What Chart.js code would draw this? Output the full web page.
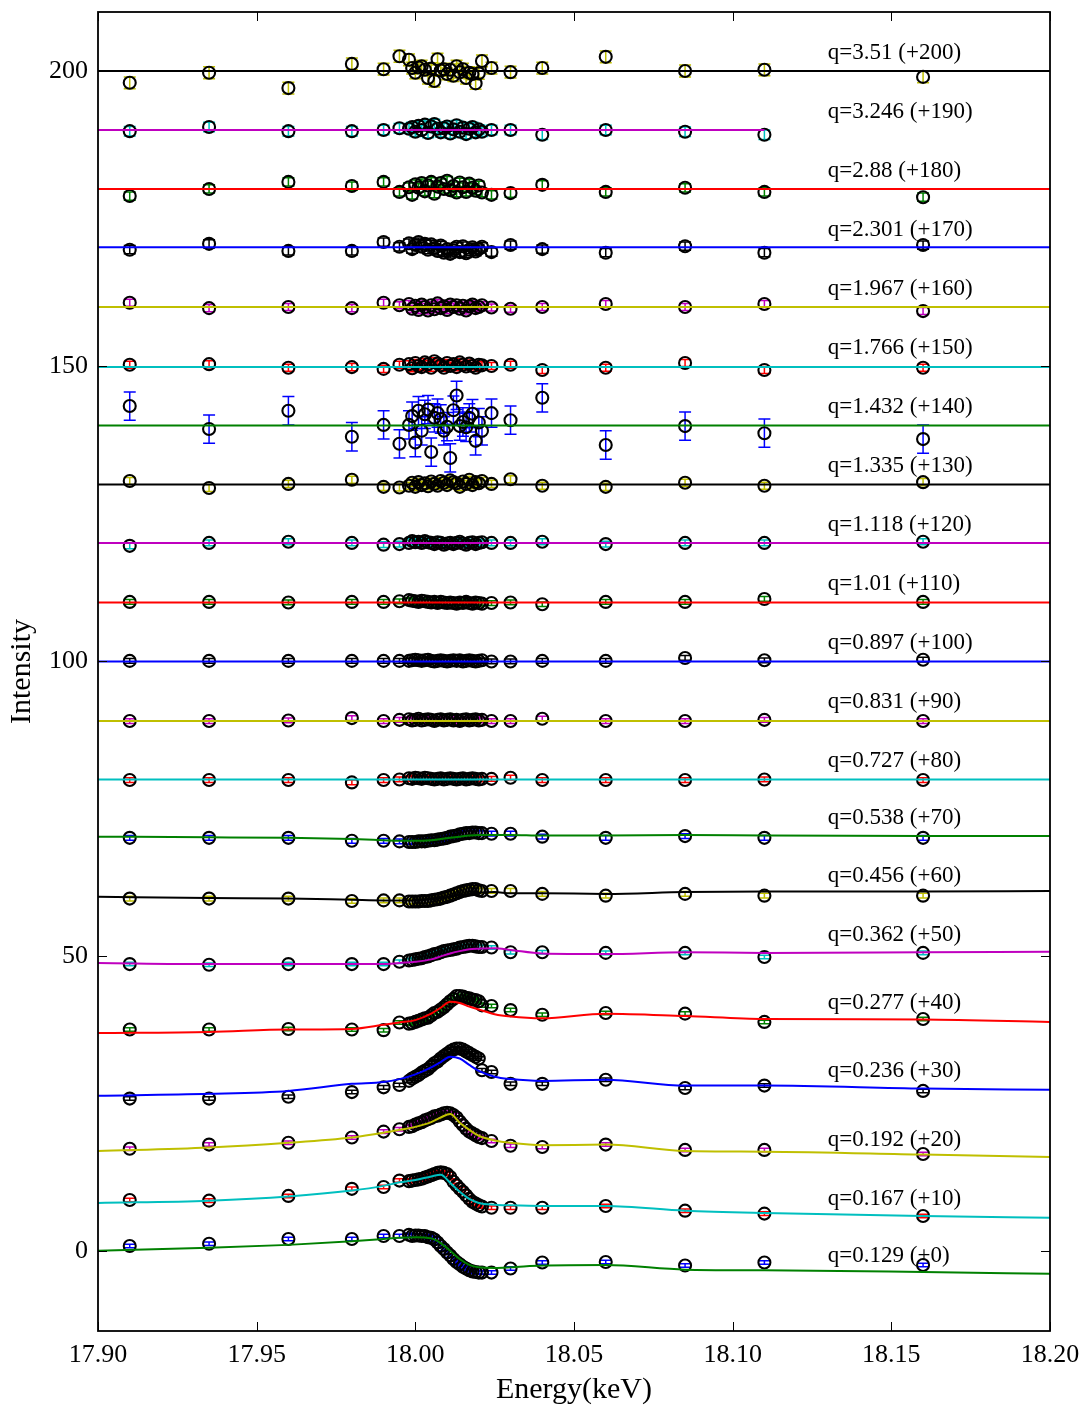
<!DOCTYPE html>
<html>
<head>
<meta charset="utf-8">
<script src="https://cdn.jsdelivr.net/npm/chart.js@4.4.0/dist/chart.umd.min.js"></script>
<style>
  html, body { margin: 0; padding: 0; background: #fff; }
</style>
</head>
<body>
<canvas id="spectraChart" width="1084" height="1408"></canvas>
<script>
// measured energies (keV), shared by every q
const energy = [17.91, 17.935, 17.96, 17.98, 17.99, 17.995,
  17.998, 17.999, 18.000, 18.001, 18.002, 18.003, 18.004, 18.005, 18.006, 18.007, 18.008, 18.009,
  18.010, 18.011, 18.012, 18.013, 18.014, 18.015, 18.016, 18.017, 18.018, 18.019, 18.020, 18.021,
  18.024, 18.03, 18.04, 18.06, 18.085, 18.11, 18.16];

// energies where the fit curves are drawn
const fitEnergy = [17.90, 17.935, 17.96, 17.98, 17.99, 17.995, 18.0, 18.005, 18.008, 18.011,
  18.014, 18.017, 18.02, 18.025, 18.03, 18.04, 18.06, 18.085, 18.11, 18.16, 18.20];

const xTicks = [17.90, 17.95, 18.00, 18.05, 18.10, 18.15, 18.20];
const yTicks = [0, 50, 100, 150, 200];

const qValues = ['0.129', '0.167', '0.192', '0.236', '0.277', '0.362', '0.456', '0.538', '0.727', '0.831',
  '0.897', '1.01', '1.118', '1.335', '1.432', '1.766', '1.967', '2.301', '2.88', '3.246', '3.51'];
const offsets = [0, 10, 20, 30, 40, 50, 60, 70, 80, 90, 100, 110, 120, 130, 140, 150, 160, 170, 180, 190, 200];

// intensity without the offset (one value per energy)
const i0129 = [0.8, 1.2, 2.0, 2.0, 2.5, 2.5,
  2.7, 2.5, 2.6, 2.6, 2.5, 2.5, 2.3, 2.2, 1.9, 1.4, 0.8, 0.3, -0.3, -0.8, -1.4, -1.9, -2.3, -2.7, -3.0, -3.3, -3.5, -3.6, -3.7, -3.7,
  -3.7, -3.0, -2.0, -1.9, -2.5, -2.0, -2.4];
const i0167 = [-1.4, -1.5, -0.7, 0.5, 0.8, 1.9,
  1.8, 1.9, 2.0, 2.1, 2.2, 2.4, 2.6, 2.8, 3.0, 3.2, 3.3, 3.2, 3.0, 2.5, 1.7, 1.1, 0.5, 0.0, -0.6, -1.2, -1.7, -2.0, -2.3, -2.5,
  -2.7, -2.7, -2.7, -2.4, -3.2, -3.7, -4.1];
const i0192 = [-2.7, -2.0, -1.7, -0.8, 0.2, 0.6,
  1.0, 1.1, 1.4, 1.6, 1.8, 2.1, 2.3, 2.5, 2.8, 2.9, 3.1, 3.3, 3.4, 3.3, 3.0, 2.6, 1.9, 1.3, 0.7, 0.2, -0.1, -0.4, -0.7, -0.9,
  -1.4, -2.2, -2.4, -2.0, -2.9, -2.9, -3.6];
const i0236 = [-4.2, -4.2, -3.9, -3.1, -2.3, -1.9,
  -1.2, -0.8, -0.5, -0.2, 0.2, 0.5, 0.8, 1.3, 1.8, 2.1, 2.6, 3.0, 3.4, 3.8, 4.1, 4.3, 4.3, 4.1, 3.8, 3.5, 3.2, 2.9, 2.6, 0.6,
  0.3, -1.7, -1.7, -1.0, -2.4, -2.0, -2.9];
const i0277 = [-2.5, -2.5, -2.4, -2.5, -2.6, -1.3,
  -1.5, -1.4, -1.2, -1.0, -0.8, -0.6, -0.5, -0.1, 0.3, 0.5, 0.9, 1.3, 1.8, 2.3, 2.7, 3.2, 3.2, 3.1, 2.9, 2.8, 2.6, 2.5, 2.3, 1.6,
  1.5, 0.8, 0.0, 0.3, 0.2, -1.2, -0.7];
const i0362 = [-1.4, -1.5, -1.4, -1.4, -1.4, -1.0,
  -0.8, -0.7, -0.6, -0.5, -0.4, -0.2, -0.1, 0.1, 0.3, 0.4, 0.6, 0.8, 0.9, 1.0, 1.1, 1.2, 1.4, 1.5, 1.6, 1.7, 1.7, 1.6, 1.5, 1.5,
  1.4, 0.6, 0.6, 0.5, 0.5, -0.2, 0.5];
const i0456 = [-0.3, -0.3, -0.3, -0.7, -0.6, -0.6,
  -0.8, -0.8, -0.8, -0.8, -0.7, -0.7, -0.7, -0.6, -0.5, -0.4, -0.3, -0.1, 0.0, 0.2, 0.4, 0.6, 0.8, 1.0, 1.1, 1.2, 1.3, 1.3, 1.1, 1.0,
  1.0, 1.0, 0.5, 0.2, 0.5, 0.2, 0.2];
const i0538 = [0.0, 0.0, 0.0, -0.5, -0.5, -0.6,
  -0.7, -0.7, -0.7, -0.6, -0.6, -0.6, -0.5, -0.4, -0.4, -0.3, -0.2, -0.1, 0.0, 0.2, 0.3, 0.4, 0.6, 0.7, 0.8, 0.8, 0.9, 0.9, 0.8, 0.8,
  0.7, 0.7, 0.2, 0.0, 0.3, 0.0, 0.0];
const i0727 = [-0.2, -0.2, -0.2, -0.6, -0.2, -0.1,
  0.1, 0.0, 0.2, 0.1, 0.0, 0.2, 0.1, 0.0, -0.1, 0.0, 0.1, -0.1, 0.0, 0.1, 0.0, -0.1, 0.0, 0.1, -0.1, 0.0, 0.1, 0.0, -0.1, 0.0,
  0.0, 0.2, -0.2, -0.2, -0.2, -0.1, -0.2];
const i0831 = [-0.2, -0.2, -0.1, 0.3, -0.2, 0.0,
  0.1, -0.1, 0.0, 0.2, -0.1, 0.0, 0.1, 0.0, -0.2, 0.0, 0.1, -0.1, 0.0, 0.1, -0.1, 0.0, -0.2, 0.0, 0.1, -0.1, 0.0, 0.1, -0.1, 0.0,
  -0.2, -0.2, 0.2, -0.2, -0.2, 0.0, -0.2];
const i0897 = [0.0, 0.0, 0.0, 0.0, 0.0, 0.0,
  0.0, 0.1, 0.2, 0.1, 0.0, 0.1, 0.2, 0.0, -0.1, 0.0, 0.1, 0.0, -0.1, 0.0, 0.1, 0.0, 0.1, -0.1, 0.0, 0.1, 0.0, -0.1, 0.0, 0.1,
  -0.1, -0.1, 0.0, 0.0, 0.5, 0.1, 0.2];
const i1010 = [0.0, 0.0, -0.1, 0.0, 0.0, 0.1,
  0.3, 0.2, 0.1, 0.0, 0.2, 0.1, 0.0, -0.1, 0.0, -0.2, 0.0, -0.1, -0.2, -0.1, -0.2, -0.3, -0.1, -0.2, 0.0, -0.2, -0.3, -0.1, -0.2, -0.3,
  -0.2, -0.1, -0.4, 0.0, 0.0, 0.5, 0.0];
const i1118 = [-0.5, 0.0, 0.2, 0.0, -0.3, -0.2,
  0.0, 0.3, 0.1, 0.2, 0.0, 0.3, 0.1, 0.0, -0.2, 0.1, 0.0, -0.3, -0.1, 0.0, -0.2, 0.0, 0.2, -0.1, -0.3, 0.0, 0.1, -0.2, 0.0, 0.1,
  0.0, 0.0, 0.2, -0.2, 0.0, 0.0, 0.2];
const i1335 = [0.5, -0.7, 0.0, 0.7, -0.5, -0.6,
  -0.3, 0.2, -0.5, 0.3, -0.2, 0.1, -0.4, 0.4, 0.0, -0.3, 0.5, 0.2, -0.2, 0.6, 0.3, 0.1, -0.5, 0.4, 0.0, 0.7, -0.2, 0.3, 0.1, 0.5,
  0.0, 0.8, -0.3, -0.5, 0.2, -0.3, 0.3];
const i1432 = [3.2, -0.7, 2.4, -2.0, 0.0, -3.2,
  0.0, 1.5, -3.0, 2.4, -1.0, 1.8, 2.6, -4.6, 1.2, 2.0, 1.0, -1.0, -0.3, -5.6, 2.5, 5.0, -0.2, 0.5, -0.4, 1.2, 1.9, -2.7, 0.4, -1.0,
  2.0, 0.8, 4.6, -3.4, -0.2, -1.4, -2.4];
const i1766 = [0.2, 0.3, -0.3, -0.2, -0.5, 0.2,
  0.3, -0.4, 0.5, 0.0, -0.2, 0.6, 0.3, -0.3, 0.8, 0.4, 0.1, -0.3, 0.5, 0.0, 0.3, -0.2, 0.6, 0.2, -0.1, 0.4, 0.0, -0.3, 0.2, 0.1,
  0.0, 0.2, -0.7, -0.3, 0.5, -0.7, -0.3];
const i1967 = [0.7, -0.2, 0.0, -0.2, 0.7, 0.3,
  0.5, -0.3, 0.2, -0.5, 0.4, 0.0, -0.6, 0.3, -0.4, 0.6, -0.2, 0.1, -0.5, 0.4, 0.0, 0.3, -0.3, 0.2, -0.6, 0.1, 0.4, -0.2, 0.0, 0.3,
  -0.1, -0.3, 0.0, 0.5, 0.0, 0.5, -0.7];
const i2301 = [-0.3, 0.7, -0.5, -0.5, 1.0, 0.2,
  0.8, -0.2, 0.5, 1.0, 0.2, 0.7, -0.3, 0.6, 0.0, -0.5, 0.4, -0.8, -0.2, -1.0, -0.4, 0.2, -0.7, 0.3, -0.9, -0.3, 0.1, -0.6, -0.2, 0.2,
  -0.7, 0.5, -0.2, -0.8, 0.3, -0.8, 0.5];
const i2880 = [-1.2, 0.0, 1.2, 0.5, 1.2, -0.5,
  0.3, -1.0, 0.8, 0.2, 1.0, -0.4, 0.6, 1.2, -0.8, 0.4, 1.0, 0.0, 1.4, -0.2, 0.5, -0.6, 1.1, 0.3, -0.5, 0.9, 0.2, -0.3, 0.6, -0.6,
  -1.0, -0.7, 0.7, -0.5, 0.2, -0.5, -1.4];
const i3246 = [-0.2, 0.5, -0.2, -0.2, 0.0, 0.3,
  0.2, 0.5, -0.3, 0.7, 0.0, 0.9, -0.5, 0.6, 1.0, 0.2, -0.4, 0.3, 0.6, -0.6, 0.1, 0.8, -0.3, 0.4, -0.7, 0.2, 0.5, -0.4, 0.1, -0.3,
  0.0, 0.0, -0.8, 0.0, -0.3, -0.8, null];
const i3510 = [-2.0, -0.3, -2.9, 1.2, 0.3, 2.5,
  1.9, 0.5, -0.3, 0.6, 0.8, 0.2, -1.2, 0.4, -1.7, 2.0, 0.1, 0.3, -0.5, 0.2, -0.8, 0.8, -0.2, 0.3, -1.2, -0.3, -0.5, -2.1, -0.4, 1.7,
  0.5, -0.2, 0.5, 2.4, 0.0, 0.2, -1.0];

// fit curves (also without the offset), on fitEnergy
const f0129 = [0.0, 0.5, 1.0, 1.6, 2.0, 2.2, 2.3, 2.1, 1.3, 0.0, -1.4, -2.4, -2.8, -2.9, -2.8, -2.5, -2.4, -3.2, -3.3, -3.6, -3.9];
const f0167 = [-1.9, -1.5, -0.8, 0.2, 1.0, 1.6, 2.0, 2.6, 2.9, 1.5, 0.0, -1.2, -1.9, -2.2, -2.3, -2.4, -2.4, -3.2, -3.6, -4.1, -4.4];
const f0192 = [-3.1, -2.5, -1.7, -0.8, 0.0, 0.5, 1.0, 1.8, 2.6, 3.2, 1.7, 0.5, -0.5, -1.3, -1.7, -2.1, -2.0, -3.1, -3.2, -3.7, -4.1];
const f0236 = [-3.7, -3.4, -2.9, -1.7, -1.4, -0.9, -0.1, 1.1, 2.0, 2.9, 2.6, 1.5, 0.5, -0.5, -0.9, -1.2, -1.0, -2.0, -2.0, -2.5, -2.7];
const f0277 = [-3.1, -2.9, -2.5, -2.4, -1.7, -1.3, -0.9, 0.2, 1.2, 2.2, 2.0, 1.4, 0.9, 0.1, -0.3, -0.6, 0.2, -0.2, -0.7, -0.8, -1.2];
const f0362 = [-1.2, -1.4, -1.4, -1.4, -1.4, -1.2, -1.0, -0.6, -0.1, 0.4, 0.8, 1.1, 1.2, 1.3, 1.0, 0.4, 0.3, 0.6, 0.5, 0.6, 0.7];
const f0456 = [0.0, -0.2, -0.3, -0.5, -0.6, -0.6, -0.6, -0.4, -0.2, 0.0, 0.3, 0.5, 0.7, 0.8, 0.6, 0.6, 0.5, 0.8, 0.9, 0.9, 1.0];
const f0538 = [0.2, 0.1, 0.0, -0.2, -0.4, -0.5, -0.5, -0.4, -0.2, 0.0, 0.2, 0.4, 0.5, 0.5, 0.5, 0.4, 0.4, 0.5, 0.4, 0.3, 0.3];
const f0727 = [-0.1, -0.1, -0.1, -0.1, -0.1, -0.1, -0.1, -0.1, -0.1, -0.1, -0.1, -0.1, -0.1, -0.1, -0.1, -0.1, -0.1, -0.1, -0.1, -0.1, -0.1];
const f0831 = [-0.2, -0.2, -0.2, -0.2, -0.2, -0.2, -0.2, -0.2, -0.2, -0.2, -0.2, -0.2, -0.2, -0.2, -0.2, -0.2, -0.2, -0.2, -0.2, -0.2, -0.2];
const f0897 = [-0.1, -0.1, -0.1, -0.1, -0.1, -0.1, -0.1, -0.1, -0.1, -0.1, -0.1, -0.1, -0.1, -0.1, -0.1, -0.1, -0.1, -0.1, -0.1, -0.1, -0.1];
const f1010 = [-0.1, -0.1, -0.1, -0.1, -0.1, -0.1, -0.1, -0.1, -0.1, -0.1, -0.1, -0.1, -0.1, -0.1, -0.1, -0.1, -0.1, -0.1, -0.1, -0.1, -0.1];
const f1118 = [0.0, 0.0, 0.0, 0.0, 0.0, 0.0, 0.0, 0.0, 0.0, 0.0, 0.0, 0.0, 0.0, 0.0, 0.0, 0.0, 0.0, 0.0, 0.0, 0.0, 0.0];
const f1335 = [-0.1, -0.1, -0.1, -0.1, -0.1, -0.1, -0.1, -0.1, -0.1, -0.1, -0.1, -0.1, -0.1, -0.1, -0.1, -0.1, -0.1, -0.1, -0.1, -0.1, -0.1];
const f1432 = [-0.1, -0.1, -0.1, -0.1, -0.1, -0.1, -0.1, -0.1, -0.1, -0.1, -0.1, -0.1, -0.1, -0.1, -0.1, -0.1, -0.1, -0.1, -0.1, -0.1, -0.1];
const f1766 = [-0.2, -0.2, -0.2, -0.2, -0.2, -0.2, -0.2, -0.2, -0.2, -0.2, -0.2, -0.2, -0.2, -0.2, -0.2, -0.2, -0.2, -0.2, -0.2, -0.2, -0.2];
const f1967 = [0.0, 0.0, 0.0, 0.0, 0.0, 0.0, 0.0, 0.0, 0.0, 0.0, 0.0, 0.0, 0.0, 0.0, 0.0, 0.0, 0.0, 0.0, 0.0, 0.0, 0.0];
const f2301 = [0.1, 0.1, 0.1, 0.1, 0.1, 0.1, 0.1, 0.1, 0.1, 0.1, 0.1, 0.1, 0.1, 0.1, 0.1, 0.1, 0.1, 0.1, 0.1, 0.1, 0.1];
const f2880 = [0.0, 0.0, 0.0, 0.0, 0.0, 0.0, 0.0, 0.0, 0.0, 0.0, 0.0, 0.0, 0.0, 0.0, 0.0, 0.0, 0.0, 0.0, 0.0, 0.0, 0.0];
const f3246 = [0.0, 0.0, 0.0, 0.0, 0.0, 0.0, 0.0, 0.0, 0.0, 0.0, 0.0, 0.0, 0.0, 0.0, 0.0, 0.0, 0.0, 0.0, 0.0, null, null];
const f3510 = [0.0, 0.0, 0.0, 0.0, 0.0, 0.0, 0.0, 0.0, 0.0, 0.0, 0.0, 0.0, 0.0, 0.0, 0.0, 0.0, 0.0, 0.0, 0.0, 0.0, 0.0];

// half size of the error bars (same units as intensity)
const errSizes = [0.3, 0.3, 0.3, 0.3, 0.3, 0.3, 0.4, 0.4, 0.4, 0.4, 0.4, 0.4, 0.5, 0.6, 2.4, 0.6, 0.6, 0.7, 0.7, 0.8, 1.0];

// where the q labels sit (plotted intensity)
const labelEnergy = 18.13;
const labelY = [-0.85, 8.8, 18.8, 30.5, 42.0, 53.6, 63.6, 73.4, 83.0, 93.0, 103.0, 113.0, 123.0, 133.0, 143.0, 153.0, 163.0, 173.0, 183.0, 193.0, 203.0];

const measured = [i0129, i0167, i0192, i0236, i0277, i0362, i0456, i0538, i0727, i0831, i0897,
  i1010, i1118, i1335, i1432, i1766, i1967, i2301, i2880, i3246, i3510];
const fits = [f0129, f0167, f0192, f0236, f0277, f0362, f0456, f0538, f0727, f0831, f0897,
  f1010, f1118, f1335, f1432, f1766, f1967, f2301, f2880, f3246, f3510];

// classic matplotlib colours
const B = '#0000ff', G = '#008000', R = '#ff0000', C = '#00bfbf', M = '#bf00bf', Y = '#bfbf00', K = '#000000';
const errColors = [B, R, M, K, G, C, Y, B, R, M, K, G, C, Y, B, R, M, K, G, C, Y];
const fitColors = [G, C, Y, B, R, M, K, G, C, Y, B, R, M, K, G, C, Y, B, R, M, K];

const serif = '"Liberation Serif", "Times New Roman", serif';

// 1. Build datasets: points then fit line for each q
const datasets = [];
measured.forEach((vals, i) => {
  datasets.push({
    label: 'q=' + qValues[i],
    data: energy.map((e, j) => ({ x: e, y: vals[j] === null ? null : vals[j] + offsets[i] })),
    showLine: false,
    pointStyle: 'circle',
    pointRadius: 6,
    pointBorderWidth: 2.1,
    pointBorderColor: K,
    pointBackgroundColor: 'rgba(0,0,0,0)',
    errColor: errColors[i],
    errSize: errSizes[i],
    order: 1000 - datasets.length
  });
  datasets.push({
    label: 'fit ' + qValues[i],
    data: fitEnergy.map((e, j) => ({ x: e, y: fits[i][j] === null ? null : fits[i][j] + offsets[i] })),
    showLine: true,
    pointRadius: 0,
    borderColor: fitColors[i],
    borderWidth: 2,
    cubicInterpolationMode: 'monotone',
    spanGaps: false,
    order: 1000 - datasets.length
  });
});

// 2. Error bars, drawn just under each set of markers
const errorBars = {
  id: 'errorBars',
  beforeDatasetDraw(chart, args) {
    const ds = chart.data.datasets[args.index];
    if (!ds.errSize) return;
    const ctx = chart.ctx;
    const y = chart.scales.y;
    ctx.save();
    ctx.strokeStyle = ds.errColor;
    ctx.lineWidth = 1.5;
    args.meta.data.forEach((pt, j) => {
      const v = ds.data[j].y;
      if (v === null || pt.skip) return;
      const top = y.getPixelForValue(v + ds.errSize);
      const bot = y.getPixelForValue(v - ds.errSize);
      ctx.beginPath();
      ctx.moveTo(pt.x, top); ctx.lineTo(pt.x, bot);
      ctx.moveTo(pt.x - 6, top); ctx.lineTo(pt.x + 6, top);
      ctx.moveTo(pt.x - 6, bot); ctx.lineTo(pt.x + 6, bot);
      ctx.stroke();
    });
    ctx.restore();
  }
};

// 3. Labels, frame and inward ticks
const decorations = {
  id: 'decorations',
  afterDatasetsDraw(chart) {
    const { ctx, chartArea: a, scales: { x, y } } = chart;
    ctx.save();
    ctx.font = '23px ' + serif;
    ctx.fillStyle = '#000';
    ctx.textAlign = 'left';
    ctx.textBaseline = 'middle';
    qValues.forEach((q, i) => {
      ctx.fillText('q=' + q + ' (+' + offsets[i] + ')', x.getPixelForValue(labelEnergy), y.getPixelForValue(labelY[i]));
    });

    ctx.strokeStyle = '#000';
    ctx.lineWidth = 1.8;
    ctx.strokeRect(a.left, a.top, a.right - a.left, a.bottom - a.top);

    ctx.lineWidth = 1;
    ctx.beginPath();
    xTicks.forEach(v => {
      const px = Math.round(x.getPixelForValue(v)) + 0.5;
      ctx.moveTo(px, a.bottom); ctx.lineTo(px, a.bottom - 9);
      ctx.moveTo(px, a.top); ctx.lineTo(px, a.top + 9);
    });
    yTicks.forEach(v => {
      const py = Math.round(y.getPixelForValue(v)) + 0.5;
      ctx.moveTo(a.left, py); ctx.lineTo(a.left + 9, py);
      ctx.moveTo(a.right, py); ctx.lineTo(a.right - 9, py);
    });
    ctx.stroke();
    ctx.restore();
  }
};

// 4. Chart
new Chart(document.getElementById('spectraChart'), {
  type: 'scatter',
  data: { datasets },
  options: {
    responsive: false,
    devicePixelRatio: 1,
    animation: false,
    layout: { padding: { top: 12, right: 34, left: 0, bottom: 0 } },
    plugins: { legend: { display: false }, tooltip: { enabled: false } },
    scales: {
      x: {
        type: 'linear',
        min: 17.90,
        max: 18.20,
        afterBuildTicks: s => { s.ticks = xTicks.map(v => ({ value: v })); },
        afterFit: s => { s.height = 77; s.paddingLeft = 0; s.paddingRight = 0; },
        grid: { display: false, drawTicks: false },
        border: { display: false },
        ticks: { color: '#000', padding: 9, maxRotation: 0, autoSkip: false,
          font: { family: serif, size: 26 }, callback: v => Number(v).toFixed(2) },
        title: { display: true, text: 'Energy(keV)', color: '#000',
          font: { family: serif, size: 30 }, padding: { top: 0, bottom: 0 } }
      },
      y: {
        type: 'linear',
        min: -13.6,
        max: 210,
        afterBuildTicks: s => { s.ticks = yTicks.map(v => ({ value: v })); },
        afterFit: s => { s.width = 98; s.paddingTop = 0; s.paddingBottom = 0; },
        grid: { display: false, drawTicks: false },
        border: { display: false },
        ticks: { color: '#000', padding: 10, font: { family: serif, size: 26 } },
        title: { display: true, text: 'Intensity', color: '#000',
          font: { family: serif, size: 30 }, padding: { top: 4, bottom: 0 } }
      }
    }
  },
  plugins: [errorBars, decorations]
});
</script>
</body>
</html>
